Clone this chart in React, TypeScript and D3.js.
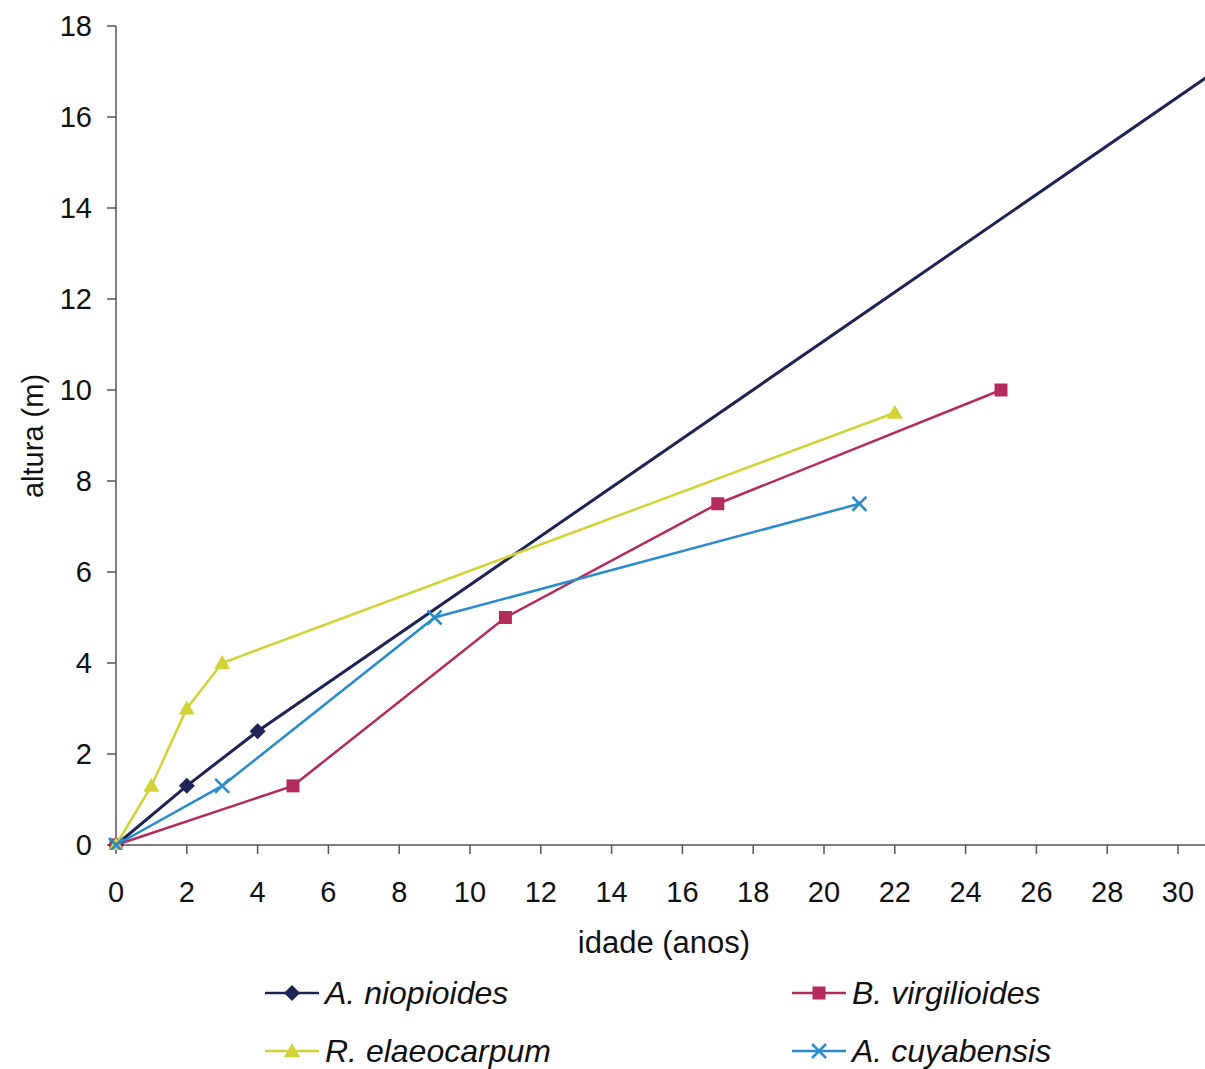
import React from "react";
import * as d3 from "d3";

const xTicks = [0, 2, 4, 6, 8, 10, 12, 14, 16, 18, 20, 22, 24, 26, 28, 30];
const yTicks = [0, 2, 4, 6, 8, 10, 12, 14, 16, 18];

const niopioidesX = [0, 2, 4, 40];
const niopioidesY = [0, 1.3, 2.5, 21.8];
const virgilioidesX = [0, 5, 11, 17, 25];
const virgilioidesY = [0, 1.3, 5, 7.5, 10];
const elaeocarpumX = [0, 1, 2, 3, 22];
const elaeocarpumY = [0, 1.3, 3, 4, 9.5];
const cuyabensisX = [0, 3, 9, 21];
const cuyabensisY = [0, 1.3, 5, 7.5];

type Pt = [number, number];
const zip = (xs: number[], ys: number[]): Pt[] => xs.map((x, i) => [x, ys[i]]);

const series = [
  { name: "A. niopioides", color: "#1c2555", marker: "diamond", width: 3, pts: zip(niopioidesX, niopioidesY) },
  { name: "B. virgilioides", color: "#b52a5c", marker: "square", width: 2.5, pts: zip(virgilioidesX, virgilioidesY) },
  { name: "R. elaeocarpum", color: "#d3d336", marker: "triangle", width: 2.5, pts: zip(elaeocarpumX, elaeocarpumY) },
  { name: "A. cuyabensis", color: "#2a8ccc", marker: "cross", width: 2.5, pts: zip(cuyabensisX, cuyabensisY) },
];

const W = 1205;
const H = 1069;
const left = 116;
const bottom = 845;

const x = d3.scaleLinear().domain([0, 30]).range([left, 1178]);
const y = d3.scaleLinear().domain([0, 18]).range([bottom, 26]);

const line = d3
  .line<Pt>()
  .x((d) => x(d[0]))
  .y((d) => y(d[1]));

function Marker({ kind, cx, cy, color }: { kind: string; cx: number; cy: number; color: string }) {
  if (kind === "diamond") {
    return <path d={`M${cx},${cy - 8}L${cx + 8},${cy}L${cx},${cy + 8}L${cx - 8},${cy}Z`} fill={color} />;
  }
  if (kind === "square") {
    return <rect x={cx - 6.5} y={cy - 6.5} width={13} height={13} fill={color} />;
  }
  if (kind === "triangle") {
    return <path d={`M${cx},${cy - 8}L${cx + 8},${cy + 6}L${cx - 8},${cy + 6}Z`} fill={color} />;
  }
  return (
    <path
      d={`M${cx - 7},${cy - 7}L${cx + 7},${cy + 7}M${cx - 7},${cy + 7}L${cx + 7},${cy - 7}`}
      stroke={color}
      strokeWidth={2.5}
      fill="none"
    />
  );
}

const legendPos = [
  { lx: 265, ly: 993 },
  { lx: 792, ly: 993 },
  { lx: 265, ly: 1051 },
  { lx: 792, ly: 1051 },
];

export default function App() {
  const font = "'Liberation Sans', Arial, sans-serif";
  return (
    <svg
      width={W}
      height={H}
      style={{ position: "absolute", left: 0, top: 0, background: "#fff" }}
      fontFamily={font}
    >
      <defs>
        <clipPath id="plot">
          <rect x={0} y={0} width={W} height={bottom + 5} />
        </clipPath>
      </defs>

      {/* y axis */}
      <line x1={left} x2={left} y1={y(18)} y2={bottom} stroke="#555" strokeWidth={1.5} />
      {yTicks.map((t) => (
        <g key={"y" + t}>
          <line x1={left - 9} x2={left} y1={y(t)} y2={y(t)} stroke="#555" strokeWidth={1.5} />
          <text x={92} y={y(t)} dy="0.35em" textAnchor="end" fontSize={29} fill="#111">
            {t}
          </text>
        </g>
      ))}

      {/* x axis */}
      <line x1={left} x2={W} y1={bottom} y2={bottom} stroke="#555" strokeWidth={1.5} />
      {xTicks.map((t) => (
        <g key={"x" + t}>
          <line x1={x(t)} x2={x(t)} y1={bottom} y2={bottom + 9} stroke="#555" strokeWidth={1.5} />
          <text x={x(t)} y={902} textAnchor="middle" fontSize={29} fill="#111">
            {t}
          </text>
        </g>
      ))}

      <text x={664} y={953} textAnchor="middle" fontSize={31} fill="#111">
        idade (anos)
      </text>
      <text
        transform={`translate(43,${436}) rotate(-90)`}
        textAnchor="middle"
        fontSize={29}
        fill="#111"
      >
        altura (m)
      </text>

      <g clipPath="url(#plot)">
        {series.map((s) => (
          <g key={s.name}>
            <path d={line(s.pts) || ""} fill="none" stroke={s.color} strokeWidth={s.width} />
            {s.pts.map((p, i) => (
              <Marker key={i} kind={s.marker} cx={x(p[0])} cy={y(p[1])} color={s.color} />
            ))}
          </g>
        ))}
      </g>

      {/* legend */}
      {series.map((s, i) => {
        const { lx, ly } = legendPos[i];
        return (
          <g key={"lg" + s.name}>
            <line x1={lx} x2={lx + 54} y1={ly} y2={ly} stroke={s.color} strokeWidth={2.5} />
            <Marker kind={s.marker} cx={lx + 27} cy={ly} color={s.color} />
            <text x={lx + 60} y={ly} dy="0.35em" fontSize={32} fontStyle="italic" fill="#111">
              {s.name}
            </text>
          </g>
        );
      })}
    </svg>
  );
}
